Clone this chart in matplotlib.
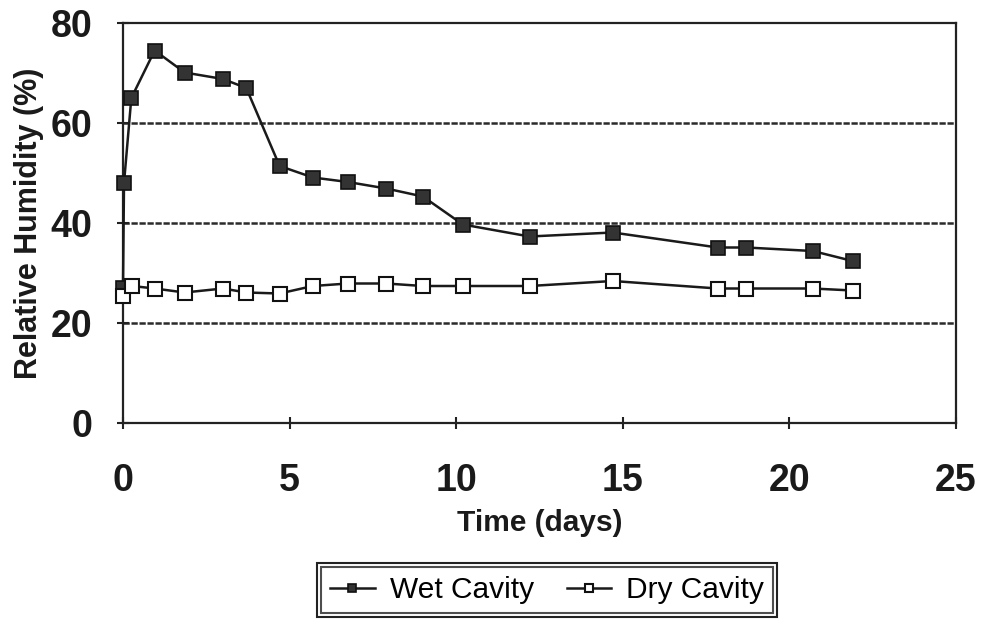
import matplotlib
matplotlib.use("Agg")
import matplotlib.pyplot as plt
from matplotlib.patches import Rectangle

# Data
wet_days = [0.0, 0.03, 0.25, 0.95, 1.85, 3.0, 3.7, 4.7, 5.7, 6.75, 7.9, 9.0, 10.2, 12.2, 14.7, 17.85, 18.7, 20.7, 21.9]
wet_rh   = [27.0, 48.0, 65.0, 74.5, 70.1, 68.8, 67.0, 51.4, 49.1, 48.2, 46.9, 45.3, 39.7, 37.3, 38.1, 35.1, 35.1, 34.4, 32.4]
dry_days = [0.0, 0.27, 0.95, 1.85, 3.0, 3.7, 4.7, 5.7, 6.75, 7.9, 9.0, 10.2, 12.2, 14.7, 17.85, 18.7, 20.7, 21.9]
dry_rh   = [25.5, 27.4, 26.9, 26.1, 26.9, 26.1, 25.9, 27.4, 27.9, 27.9, 27.4, 27.4, 27.4, 28.4, 26.9, 26.9, 26.9, 26.5]
x_ticks = [0, 5, 10, 15, 20, 25]
y_ticks = [0, 20, 40, 60, 80]
grid_vals = [20, 40, 60]

plt.rcParams['font.family'] = ['Liberation Sans', 'DejaVu Sans']

fig = plt.figure(figsize=(9.81, 6.20), dpi=100)
ax = fig.add_axes([123/981, 1-423/620, (956-123)/981, (423-23)/620])

for g in grid_vals:
    ax.axhline(g, color='#2a2a2a', lw=1.8, ls=(0, (2.5, 0.7)), zorder=1)

ax.plot(wet_days, wet_rh, color='#1a1a1a', lw=1.8, marker='s', ms=9.5,
        mfc='#333333', mec='#111111', mew=1.2, label='Wet Cavity', zorder=3, clip_on=False)
ax.plot(dry_days, dry_rh, color='#1a1a1a', lw=1.8, marker='s', ms=9.5,
        mfc='white', mec='#111111', mew=1.5, label='Dry Cavity', zorder=3, clip_on=False)

ax.set_xlim(0, 25)
ax.set_ylim(0, 80)
ax.set_xticks(x_ticks)
ax.set_yticks(y_ticks)
ax.tick_params(axis='both', direction='inout', length=8, width=1.5, color='#222222',
               labelsize=27)
ax.tick_params(axis='x', pad=25)
ax.tick_params(axis='y', pad=18)
for lab in ax.get_xticklabels() + ax.get_yticklabels():
    lab.set_fontweight('bold')
    lab.set_color('#1a1a1a')

for s in ax.spines.values():
    s.set_linewidth(1.6)
    s.set_color('#222222')

ax.set_xlabel('Time (days)', fontsize=21.5, fontweight='bold', labelpad=7, color='#1a1a1a')
ax.set_ylabel('Relative Humidity (%)', fontsize=22, fontweight='bold', color='#1a1a1a')
ax.yaxis.set_label_coords((44 - 123) / (956 - 123), 0.5)

leg = fig.legend(loc='center', bbox_to_anchor=(547/981, 1-590/620), ncol=2,
                 fontsize=21.5, frameon=True, fancybox=False, edgecolor='#222222',
                 markerscale=0.6, handlelength=1.5, handletextpad=0.5,
                 columnspacing=1.1, borderpad=0.3, borderaxespad=0)
leg.get_frame().set_linewidth(1.5)

fig.canvas.draw()
bb = leg.get_window_extent().transformed(fig.transFigure.inverted())
pad_x, pad_y = 4/981, 4/620
fig.patches.append(Rectangle((bb.x0 - pad_x, bb.y0 - pad_y), bb.width + 2*pad_x, bb.height + 2*pad_y,
                             transform=fig.transFigure, fill=False, lw=1.5, ec='#222222'))

fig.savefig('out.png', dpi=100)
